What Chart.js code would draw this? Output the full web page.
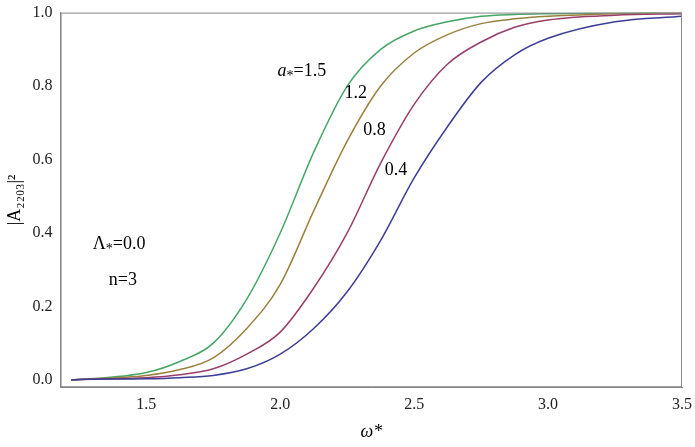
<!DOCTYPE html>
<html><head><meta charset="utf-8">
<script src="https://cdn.jsdelivr.net/npm/chart.js@4"></script>
<style>html,body{margin:0;background:#fff}#w{width:695px;height:447px}</style>
</head><body><div id="w"><canvas id="c"></canvas></div>
<script>
const omega = [1.22,1.25,1.5,1.625,1.75,1.875,2.0,2.125,2.25,2.375,2.5,2.625,2.75,2.875,3.0,3.25,3.5];
const a04 = [0.0,0.001,0.003,0.006,0.012,0.03,0.07,0.14,0.24,0.38,0.55,0.69,0.81,0.885,0.93,0.975,0.99];
const a08 = [0.0,0.001,0.006,0.014,0.03,0.07,0.13,0.25,0.40,0.59,0.75,0.86,0.92,0.96,0.98,0.993,0.997];
const a12 = [0.0,0.001,0.012,0.028,0.06,0.14,0.26,0.46,0.65,0.80,0.89,0.94,0.97,0.983,0.99,0.997,0.999];
const a15 = [0.0,0.001,0.02,0.05,0.10,0.22,0.40,0.62,0.80,0.90,0.95,0.975,0.99,0.995,0.997,0.999,1.0];
const xTicks = [1.5,2.0,2.5,3.0,3.5];
const yTicks = [0.0,0.2,0.4,0.6,0.8,1.0];
const mk = (d,c)=>({data:omega.map((x,i)=>({x,y:d[i]})),borderColor:c,borderWidth:1.5,pointRadius:0,tension:0.2,cubicInterpolationMode:'monotone',fill:false});
const F = "'Liberation Serif', serif";
const labels = [
 {x:1.99,y:0.84,t:'a',sub:'*',rest:'=1.5'},
 {x:2.24,y:0.78,t:'1.2'},
 {x:2.31,y:0.68,t:'0.8'},
 {x:2.39,y:0.57,t:'0.4'},
 {x:1.30,y:0.37,t:'Λ',sub:'*',rest:'=0.0'},
 {x:1.36,y:0.27,t:'n=3'}
];
const annot = {id:'annot',afterDatasetsDraw(ch){
 const c=ch.ctx,xs=ch.scales.x,ys=ch.scales.y;
 c.save();c.fillStyle='#000';c.textBaseline='middle';
 labels.forEach(l=>{
  let px=xs.getPixelForValue(l.x),py=ys.getPixelForValue(l.y);
  c.font=(l.t==='a'?'italic ':'')+'18px '+F;c.textAlign='left';
  c.fillText(l.t,px,py);px+=c.measureText(l.t).width;
  if(l.sub){c.font='14px '+F;c.fillText(l.sub,px,py+5);px+=c.measureText(l.sub).width;}
  if(l.rest){c.font='18px '+F;c.fillText(l.rest,px,py);}
 });
 c.restore();
}};
new Chart(document.getElementById('c'),{type:'line',
 data:{datasets:[mk(a04,'#3d3d99'),mk(a08,'#993d6b'),mk(a12,'#99803d'),mk(a15,'#45a665')]},
 options:{animation:false,responsive:true,maintainAspectRatio:false,
  layout:{padding:{top:8,right:3,left:0,bottom:0}},
  plugins:{legend:{display:false},tooltip:{enabled:false}},
  scales:{
   x:{type:'linear',min:1.18,max:3.5,
    afterBuildTicks:s=>{s.ticks=xTicks.map(v=>({value:v}))},
    ticks:{font:{family:F,size:16},color:'#222',callback:v=>v.toFixed(1),maxRotation:0},
    grid:{display:false,drawTicks:true,tickLength:5},border:{color:'#888'},
    title:{display:true,text:'ω*',font:{family:F,size:18,style:'italic'},color:'#000'}},
   y:{min:-0.02,max:1.0,
    afterBuildTicks:s=>{s.ticks=yTicks.map(v=>({value:v}))},
    ticks:{font:{family:F,size:16},color:'#222',callback:v=>v.toFixed(1)},
    grid:{display:false,tickLength:5},border:{color:'#888'},
    title:{display:true,text:'|A₂₂₀₃|²',font:{family:F,size:18},color:'#000'}}
  }},
 plugins:[annot,{id:'frame',afterDraw(ch){const a=ch.chartArea,c=ch.ctx;c.save();c.strokeStyle='#888';c.lineWidth=1;c.strokeRect(a.left+0.5,a.top+0.5,a.right-a.left-1,a.bottom-a.top-1);c.restore();}}]
});
</script></body></html>
